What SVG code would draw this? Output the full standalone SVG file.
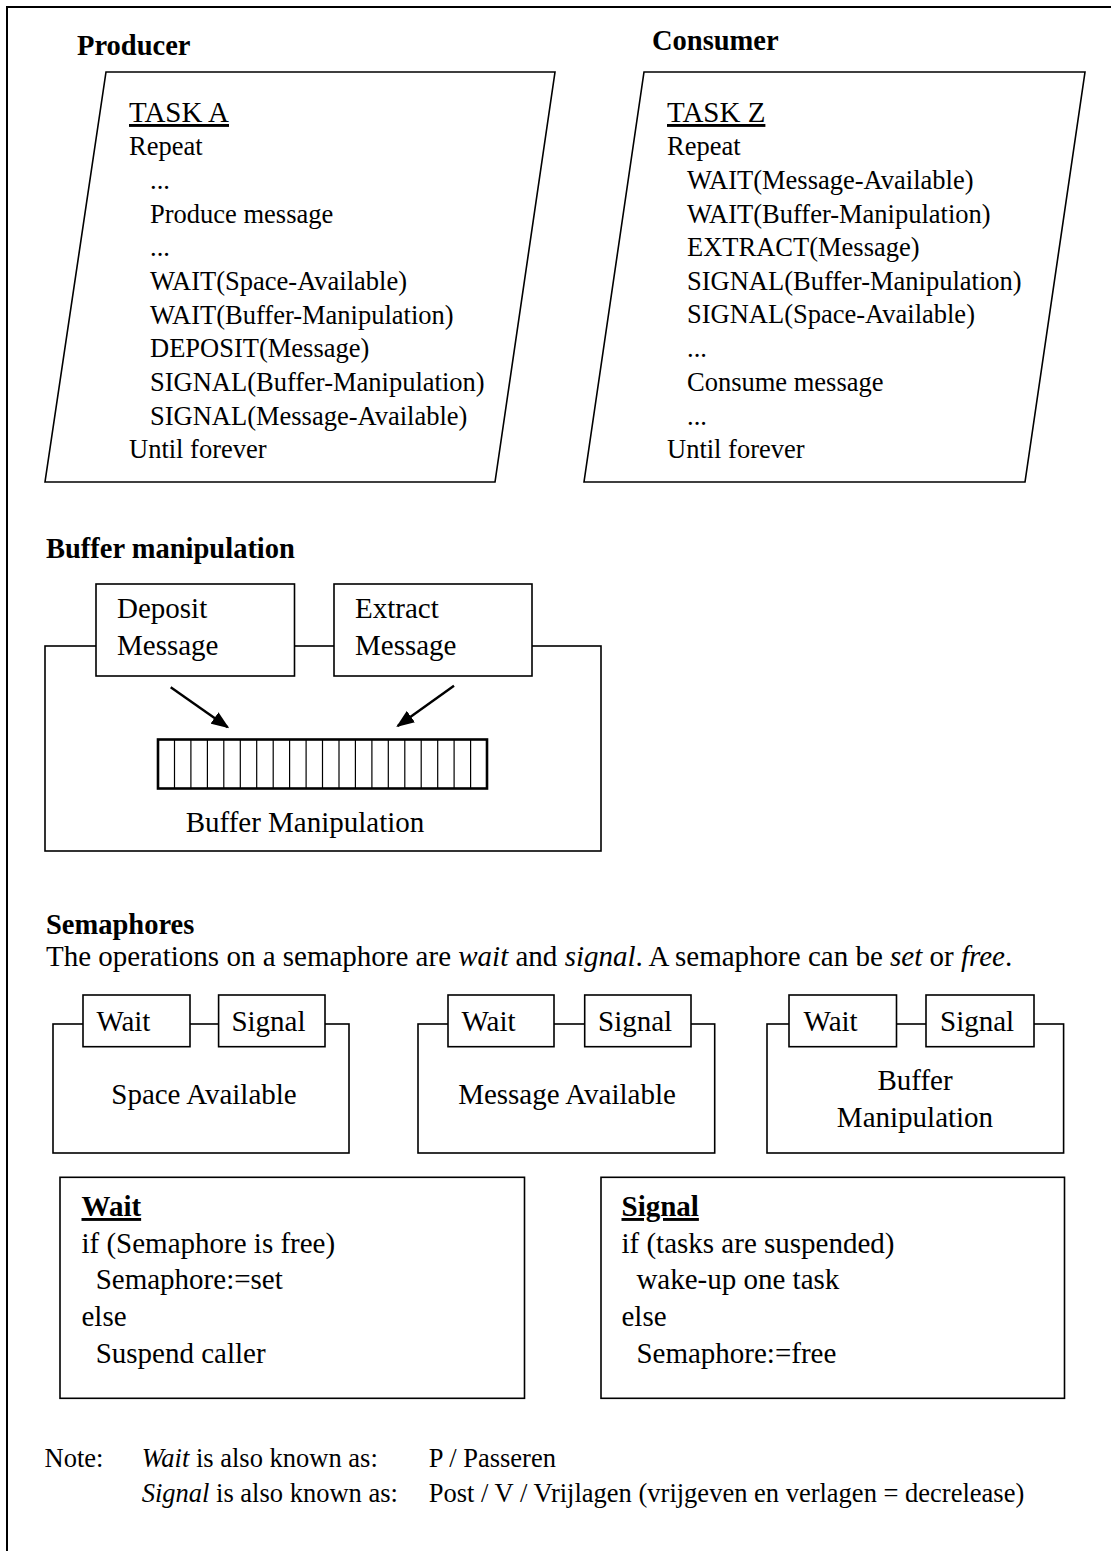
<svg xmlns="http://www.w3.org/2000/svg" width="1111" height="1551" viewBox="0 0 1111 1551">
  <style>
    text { font-family: "Liberation Serif", "Times New Roman", serif; fill: #000; }
    .body { font-size: 26.5px; }
    .lbl { font-size: 29px; }
    .hd { font-size: 28.5px; font-weight: bold; }
    .ul { text-decoration: underline; }
    .mid { text-anchor: middle; }
    .box { fill: #fff; stroke: #000; stroke-width: 1.6; }
    .frame { fill: none; stroke: #000; stroke-width: 2; }
    .cells { fill: none; stroke: #000; stroke-width: 1.2; }
    .arrow { fill: none; stroke: #000; stroke-width: 2.4; marker-end: url(#ah); }
  </style>
  <defs>
    <marker id="ah" viewBox="0 0 10 10" refX="9" refY="5" markerWidth="18" markerHeight="14" markerUnits="userSpaceOnUse" orient="auto" preserveAspectRatio="none">
      <path d="M0,0 L10,5 L0,10 z" fill="#000"/>
    </marker>
  </defs>

  <rect width="1111" height="1551" fill="#fff"/>

  <!-- page frame: top and left edges only -->
  <path class="frame" d="M7,1551 V7 H1111"/>

  <!-- producer task -->
  <g id="producer">
    <text class="hd" x="77" y="55">Producer</text>
    <polygon class="box" points="106,72 555,72 495,482 45,482"/>
    <text class="lbl ul" x="129" y="122">TASK A</text>
    <text class="body" x="129" y="155">Repeat</text>
    <text class="body" x="150" y="189">...</text>
    <text class="body" x="150" y="223">Produce message</text>
    <text class="body" x="150" y="256">...</text>
    <text class="body" x="150" y="290">WAIT(Space-Available)</text>
    <text class="body" x="150" y="324">WAIT(Buffer-Manipulation)</text>
    <text class="body" x="150" y="357">DEPOSIT(Message)</text>
    <text class="body" x="150" y="391">SIGNAL(Buffer-Manipulation)</text>
    <text class="body" x="150" y="425">SIGNAL(Message-Available)</text>
    <text class="body" x="129" y="458">Until forever</text>
  </g>

  <!-- consumer task -->
  <g id="consumer">
    <text class="hd" x="652" y="50">Consumer</text>
    <polygon class="box" points="644,72 1085,72 1025,482 584,482"/>
    <text class="lbl ul" x="667" y="122">TASK Z</text>
    <text class="body" x="667" y="155">Repeat</text>
    <text class="body" x="687" y="189">WAIT(Message-Available)</text>
    <text class="body" x="687" y="223">WAIT(Buffer-Manipulation)</text>
    <text class="body" x="687" y="256">EXTRACT(Message)</text>
    <text class="body" x="687" y="290">SIGNAL(Buffer-Manipulation)</text>
    <text class="body" x="687" y="323">SIGNAL(Space-Available)</text>
    <text class="body" x="687" y="357">...</text>
    <text class="body" x="687" y="391">Consume message</text>
    <text class="body" x="687" y="425">...</text>
    <text class="body" x="667" y="458">Until forever</text>
  </g>

  <!-- buffer manipulation module -->
  <text class="hd" x="46" y="558">Buffer manipulation</text>
  <g id="buffer-module">
    <rect class="box" x="45" y="646" width="556" height="205"/>
    <text class="lbl mid" x="305" y="832">Buffer Manipulation</text>
  </g>
  <g id="deposit">
    <rect class="box" x="96" y="584" width="198.5" height="92"/>
    <text class="lbl" x="117" y="618">Deposit</text>
    <text class="lbl" x="117" y="655">Message</text>
  </g>
  <g id="extract">
    <rect class="box" x="334" y="584" width="198" height="92"/>
    <text class="lbl" x="355" y="618">Extract</text>
    <text class="lbl" x="355" y="655">Message</text>
  </g>
  <g id="buffer">
    <rect x="158" y="739.5" width="329" height="49" fill="#fff" stroke="#000" stroke-width="2.6"/>
    <path class="cells" d="M174.5,740V788M190.9,740V788M207.4,740V788M223.8,740V788M240.3,740V788M256.7,740V788M273.2,740V788M289.6,740V788M306.1,740V788M322.5,740V788M339,740V788M355.4,740V788M371.9,740V788M388.3,740V788M404.8,740V788M421.2,740V788M437.7,740V788M454.1,740V788M470.6,740V788"/>
  </g>

  <g id="connectors">
    <path class="arrow" d="M170.7,687.3 L227.7,727.3"/>
    <path class="arrow" d="M454,685.7 L397.7,726"/>
  </g>

  <!-- semaphores -->
  <text class="hd" x="46" y="934">Semaphores</text>
  <text class="lbl" x="46" y="966">The operations on a semaphore are <tspan font-style="italic">wait</tspan> and <tspan font-style="italic">signal</tspan>. A semaphore can be <tspan font-style="italic">set</tspan> or <tspan font-style="italic">free</tspan>.</text>

  <g id="sem-space">
    <rect class="box" x="53" y="1024" width="296" height="129"/>
    <rect class="box" x="83" y="995" width="107" height="51.7"/>
    <rect class="box" x="218.6" y="995" width="106.4" height="51.7"/>
    <text class="lbl" x="96.4" y="1030.7">Wait</text>
    <text class="lbl" x="231.4" y="1030.7">Signal</text>
    <text class="lbl mid" x="204" y="1104">Space Available</text>
  </g>
  <g id="sem-message">
    <rect class="box" x="418" y="1024" width="296.7" height="129"/>
    <rect class="box" x="448" y="995" width="106" height="51.7"/>
    <rect class="box" x="584.7" y="995" width="106.3" height="51.7"/>
    <text class="lbl" x="461.5" y="1030.7">Wait</text>
    <text class="lbl" x="598" y="1030.7">Signal</text>
    <text class="lbl mid" x="567" y="1104">Message Available</text>
  </g>
  <g id="sem-buffer">
    <rect class="box" x="767" y="1024" width="296.6" height="129"/>
    <rect class="box" x="789" y="995" width="107.5" height="51.7"/>
    <rect class="box" x="926" y="995" width="108" height="51.7"/>
    <text class="lbl" x="803.6" y="1030.7">Wait</text>
    <text class="lbl" x="940" y="1030.7">Signal</text>
    <text class="lbl mid" x="915" y="1090">Buffer</text>
    <text class="lbl mid" x="915" y="1127">Manipulation</text>
  </g>

  <g id="wait-def">
    <rect class="box" x="60" y="1177.3" width="464.5" height="221"/>
    <text class="lbl ul" x="81.5" y="1216" font-weight="bold">Wait</text>
    <text class="lbl" x="81.5" y="1252.7">if (Semaphore is free)</text>
    <text class="lbl" x="95.7" y="1289.3">Semaphore:=set</text>
    <text class="lbl" x="81.5" y="1326">else</text>
    <text class="lbl" x="95.7" y="1362.7">Suspend caller</text>
  </g>
  <g id="signal-def">
    <rect class="box" x="601" y="1177.3" width="463.5" height="221"/>
    <text class="lbl ul" x="621.5" y="1216" font-weight="bold">Signal</text>
    <text class="lbl" x="621.5" y="1252.7">if (tasks are suspended)</text>
    <text class="lbl" x="636.4" y="1289.3">wake-up one task</text>
    <text class="lbl" x="621.5" y="1326">else</text>
    <text class="lbl" x="636.4" y="1362.7">Semaphore:=free</text>
  </g>

  <g id="note">
    <text class="body" x="44.6" y="1466.7">Note:</text>
    <text class="body" x="141.7" y="1466.7"><tspan font-style="italic">Wait</tspan> is also known as:</text>
    <text class="body" x="428.8" y="1466.7">P / Passeren</text>
    <text class="body" x="141.7" y="1501.7"><tspan font-style="italic">Signal</tspan> is also known as:</text>
    <text class="body" x="428.8" y="1501.7">Post / V / Vrijlagen (vrijgeven en verlagen = decrelease)</text>
  </g>
</svg>
